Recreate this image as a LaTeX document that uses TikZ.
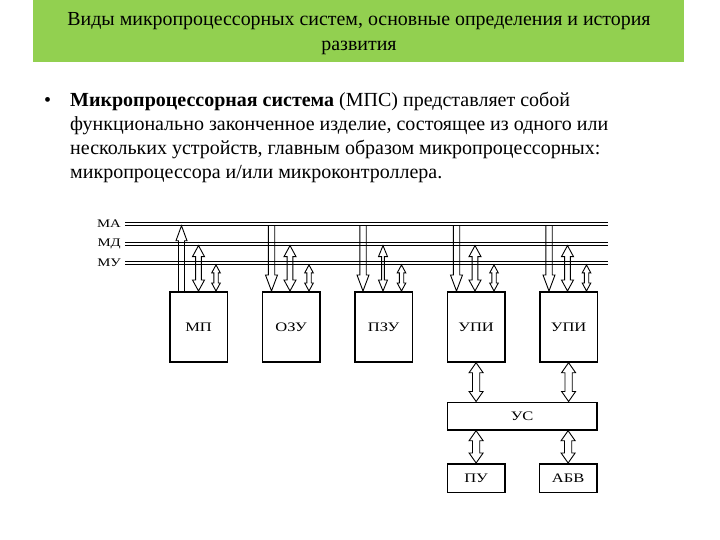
\documentclass[tikz,border=0pt]{standalone}
\usepackage{fontspec}
\setmainfont{Liberation Serif}
\usetikzlibrary{calc}
\definecolor{hdrgreen}{HTML}{92D050}
\tikzset{
  box/.style={draw, line width=1.7pt, minimum width=57.5pt, minimum height=70pt, inner sep=0pt, anchor=north west, font=\fontsize{13}{15}\selectfont},
  widebox/.style={draw, line width=1.7pt, minimum width=149.5pt, minimum height=27.5pt, inner sep=0pt, anchor=north west, font=\fontsize{13}{15}\selectfont},
  smallbox/.style={draw, line width=1.7pt, minimum width=57.5pt, minimum height=28.5pt, inner sep=0pt, anchor=north west, font=\fontsize{13}{15}\selectfont},
  busline/.style={line width=0.9pt},
  arr/.style={line width=0.9pt, line join=miter},
  lbl/.style={font=\fontsize{11.6}{13}\selectfont, anchor=base east, inner sep=0pt},
  txt/.style={font=\fontsize{20}{23}\selectfont, anchor=base west, inner sep=0pt},
  ttl/.style={font=\fontsize{19.9}{23}\selectfont, anchor=base, inner sep=0pt},
}
\newcommand\sx[1]{\scalebox{1.27}[1]{#1}}
% #1 shaft half width, #2 head half width, #3 head length, #4 bottom point, #5 top reference
\newcommand\arrUp[5]{\draw[arr] let \p1=(#4), \p2=(#5) in
  (\x1-#1pt,\y1) -- (\x1-#1pt,\y2-#3pt) -- (\x1-#2pt,\y2-#3pt) -- (\x1,\y2) -- (\x1+#2pt,\y2-#3pt) -- (\x1+#1pt,\y2-#3pt) -- (\x1+#1pt,\y1);}
\newcommand\arrDown[5]{\draw[arr] let \p1=(#4), \p2=(#5) in
  (\x1-#1pt,\y2) -- (\x1-#1pt,\y1+#3pt) -- (\x1-#2pt,\y1+#3pt) -- (\x1,\y1) -- (\x1+#2pt,\y1+#3pt) -- (\x1+#1pt,\y1+#3pt) -- (\x1+#1pt,\y2);}
\newcommand\arrBoth[5]{\draw[arr] let \p1=(#4), \p2=(#5) in
  (\x1-#1pt,\y1+#3pt) -- (\x1-#1pt,\y2-#3pt) -- (\x1-#2pt,\y2-#3pt) -- (\x1,\y2) -- (\x1+#2pt,\y2-#3pt) -- (\x1+#1pt,\y2-#3pt) -- (\x1+#1pt,\y1+#3pt) -- (\x1+#2pt,\y1+#3pt) -- (\x1,\y1) -- (\x1-#2pt,\y1+#3pt) -- cycle;}
\begin{document}
\begin{tikzpicture}[x=1pt,y=-1pt]
\useasboundingbox (0,0) rectangle (720,540);
\fill[white] (0,0) rectangle (720,540);
% header
\node[fill=hdrgreen, minimum width=651pt, minimum height=61.5pt, inner sep=0pt, anchor=north west] (hdr) at (33,0) {};
\node[ttl] (t1) at (359,26) {Виды микропроцессорных систем, основные определения и история};
\node[ttl] (t2) at (359,51) {развития};
% bullet text
\node[txt] (bul) at (44,107) {\textbullet};
\node[txt] (l1) at (70,107) {\textbf{Микропроцессорная система} (МПС) представляет собой};
\node[txt] (l2) at (70,131) {функционально законченное изделие, состоящее из одного или};
\node[txt] (l3) at (70,155) {нескольких устройств, главным образом микропроцессорных:};
\node[txt] (l4) at (70,179) {микропроцессора и/или микроконтроллера.};
% buses
\coordinate (busR) at (608,0);
\coordinate (maT) at (125,222.3);
\coordinate (maB) at (125,225.7);
\coordinate (mdT) at (125,242.3);
\coordinate (mdB) at (125,245.6);
\coordinate (myT) at (125,261.7);
\coordinate (myB) at (125,264.9);
\foreach \c in {maT,maB,mdT,mdB,myT,myB}{\draw[busline] (\c) -- (\c -| busR);}
\node[lbl] (lma) at (121,227.5) {\sx{МА}};
\node[lbl] (lmd) at (121,246.5) {\sx{МД}};
\node[lbl] (lmy) at (121,266.5) {\sx{МУ}};
% blocks
\node[box] (mp) at (169,291) {\sx{МП}};
\node[box] (ozu) at (261.5,291) {\sx{ОЗУ}};
\node[box] (pzu) at (354,291) {\sx{ПЗУ}};
\node[box] (upi1) at (446.5,291) {\sx{УПИ}};
\node[box] (upi2) at (539,291) {\sx{УПИ}};
\node[widebox] (us) at (446.5,401.5) {\sx{УС}};
\node[smallbox] (pu) at (446.5,463) {\sx{ПУ}};
\node[smallbox] (abv) at (538.5,463) {\sx{АБВ}};
% arrows to buses
\arrUp{3}{5.5}{15}{$(mp.north west)+(12.5,0)$}{maB}
\arrBoth{2.9}{6}{11}{$(mp.north west)+(29.5,0)$}{mdB}
\arrBoth{2.2}{4.3}{8}{$(mp.north west)+(47,0)$}{myB}
\arrDown{3.2}{6}{16}{$(ozu.north west)+(10,0)$}{maB}
\arrBoth{2.9}{6}{11}{$(ozu.north west)+(28.5,0)$}{mdB}
\arrBoth{2.2}{4.3}{8}{$(ozu.north west)+(47.5,0)$}{myB}
\arrDown{3.2}{6}{16}{$(pzu.north west)+(9,0)$}{maB}
\arrBoth{1.4}{4.5}{11}{$(pzu.north west)+(29,0)$}{mdB}
\arrBoth{2.2}{4.3}{8}{$(pzu.north west)+(47.5,0)$}{myB}
\arrDown{3.2}{6}{16}{$(upi1.north west)+(10,0)$}{maB}
\arrBoth{2.9}{6}{11}{$(upi1.north west)+(28.5,0)$}{mdB}
\arrBoth{2.2}{4.3}{8}{$(upi1.north west)+(47.5,0)$}{myB}
\arrDown{3.2}{6}{16}{$(upi2.north west)+(10,0)$}{maB}
\arrBoth{2.9}{6}{11}{$(upi2.north west)+(28.5,0)$}{mdB}
\arrBoth{2.2}{4.3}{8}{$(upi2.north west)+(47.5,0)$}{myB}
% lower arrows
\arrBoth{3.6}{7}{10}{upi1.south |- us.north}{upi1.south}
\arrBoth{3.6}{7}{10}{upi2.south |- us.north}{upi2.south}
\arrBoth{3.6}{7}{10}{pu.north}{pu.north |- us.south}
\arrBoth{3.6}{7}{10}{abv.north}{abv.north |- us.south}
\end{tikzpicture}
\end{document}
